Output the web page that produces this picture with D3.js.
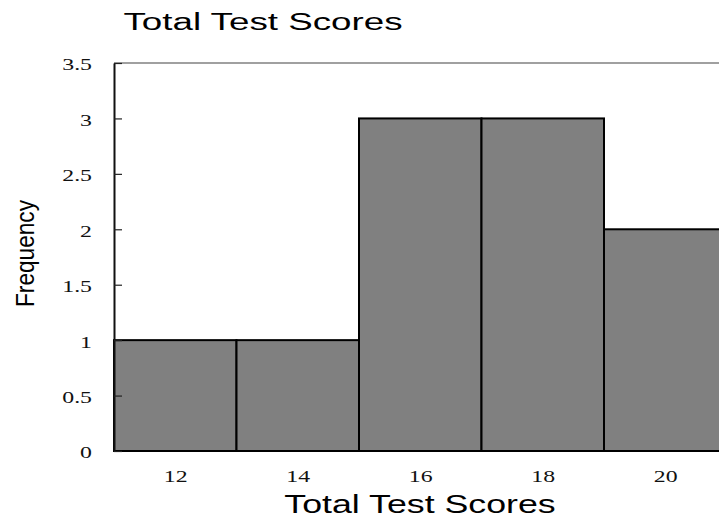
<!DOCTYPE html>
<html>
<head>
<meta charset="utf-8">
<script src="https://cdn.jsdelivr.net/npm/d3@7"></script>
<style>
  body { margin: 0; background: #fff; }
  svg { display: block; }
</style>
</head>
<body>
<svg id="chart" width="719" height="520"></svg>
<script>
// histogram data
const binEdges = [11, 13, 15, 17, 19, 21]
const frequencies = [1, 1, 3, 3, 2]
const xTicks = [12, 14, 16, 18, 20]
const yTicks = [0, 0.5, 1, 1.5, 2, 2.5, 3, 3.5]
const titleText = 'Total Test Scores'
const xLabel = 'Total Test Scores'
const yLabel = 'Frequency'

const bins = frequencies.map((f, i) => ({ x0: binEdges[i], x1: binEdges[i + 1], count: f }))

const svg = d3.select('#chart')
const plotLeft = 114
const plotTop = 63
const plotBottom = 451

// the original picture is stretched horizontally, so text gets a wider scale too
const stretch = 1.4

const x = d3.scaleLinear().domain([11, 21]).range([plotLeft, 726.5])
const y = d3.scaleLinear().domain([0, 3.5]).range([plotBottom, plotTop])

// top border of the plot area
svg.append('line')
  .attr('x1', plotLeft).attr('x2', 719)
  .attr('y1', plotTop).attr('y2', plotTop)
  .attr('stroke', '#808080')
  .attr('stroke-width', 1.5)

// bars
svg.append('g')
  .selectAll('rect')
  .data(bins)
  .join('rect')
  .attr('x', d => x(d.x0))
  .attr('y', d => y(d.count))
  .attr('width', d => x(d.x1) - x(d.x0))
  .attr('height', d => y(0) - y(d.count))
  .attr('fill', '#808080')
  .attr('stroke', '#000')
  .attr('stroke-width', 2)

// y axis, ticks point inward
const yAxis = svg.append('g')
  .attr('transform', 'translate(' + plotLeft + ',0)')
  .call(d3.axisRight(y).tickValues(yTicks).tickFormat(d => String(d)).tickSize(8).tickSizeOuter(0))
yAxis.select('.domain').attr('stroke', '#111').attr('stroke-width', 2)
yAxis.selectAll('.tick line').attr('stroke', '#222').attr('stroke-width', 1.2)
yAxis.selectAll('.tick text')
  .attr('text-anchor', 'end')
  .attr('x', 0)
  .attr('dy', '0.35em')
  .attr('transform', 'translate(-22,1) scale(' + stretch + ',1)')
  .attr('font-family', 'Liberation Serif, Times New Roman, serif')
  .attr('font-size', 17)
  .attr('fill', '#111')

// x axis labels only
const xAxis = svg.append('g')
  .attr('transform', 'translate(0,' + plotBottom + ')')
  .call(d3.axisBottom(x).tickValues(xTicks).tickSize(0))
xAxis.select('.domain').remove()
xAxis.selectAll('.tick text')
  .attr('y', 0)
  .attr('dy', 0)
  .attr('transform', 'translate(0,31) scale(' + stretch + ',1)')
  .attr('font-family', 'Liberation Serif, Times New Roman, serif')
  .attr('font-size', 17)
  .attr('fill', '#111')

// title
svg.append('text')
  .attr('transform', 'translate(263,30) scale(1.5,1)')
  .attr('text-anchor', 'middle')
  .attr('font-family', 'Liberation Sans, Arial, sans-serif')
  .attr('font-size', 24.5)
  .text(titleText)

// x axis title
svg.append('text')
  .attr('transform', 'translate(420,513) scale(1.43,1)')
  .attr('text-anchor', 'middle')
  .attr('font-family', 'Liberation Sans, Arial, sans-serif')
  .attr('font-size', 25)
  .text(xLabel)

// y axis title
svg.append('text')
  .attr('transform', 'translate(34,253.5) scale(1.25,1) rotate(-90)')
  .attr('text-anchor', 'middle')
  .attr('font-family', 'Liberation Sans, Arial, sans-serif')
  .attr('font-size', 21)
  .attr('textLength', 107)
  .attr('lengthAdjust', 'spacingAndGlyphs')
  .text(yLabel)
</script>
</body>
</html>
